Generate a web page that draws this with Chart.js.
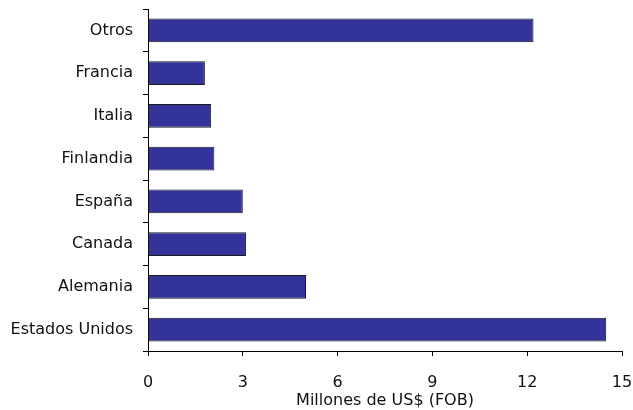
<!DOCTYPE html>
<html>
<head>
<meta charset="utf-8">
<script src="https://cdn.jsdelivr.net/npm/chart.js@4"></script>
<style>
  html, body { margin: 0; padding: 0; background: #fff; }
  #wrap { width: 633px; height: 410px; }
</style>
</head>
<body>
<div id="wrap"><canvas id="chart" width="633" height="410"></canvas></div>
<script>
const countries = ["Otros", "Francia", "Italia", "Finlandia", "España", "Canada", "Alemania", "Estados Unidos"];
const exports = [12.2, 1.8, 2.0, 2.1, 3.0, 3.1, 5.0, 14.5];
const xTicks = [0, 3, 6, 9, 12, 15];
const axisTitle = "Millones de US$ (FOB)";

const fontFamily = "'DejaVu Sans', sans-serif";

const chart = new Chart(document.getElementById("chart"), {
  type: "bar",
  data: {
    labels: countries,
    datasets: [{
      data: exports,
      backgroundColor: "#333399",
      borderColor: "#1a1a1a",
      borderWidth: 1,
      barPercentage: 0.56,
      categoryPercentage: 1,
    }],
  },
  options: {
    indexAxis: "y",
    responsive: false,
    animation: false,
    layout: { padding: { top: 9, right: 11, left: 0, bottom: 0 } },
    plugins: {
      legend: { display: false },
      tooltip: { enabled: false },
    },
    scales: {
      x: {
        min: 0,
        max: 15,
        afterBuildTicks: (scale) => {
          scale.ticks = xTicks.map((v) => ({ value: v }));
        },
        afterFit: (scale) => {
          scale.height = 59;
          scale.paddingLeft = 0;
          scale.paddingRight = 0;
        },
        grid: { drawOnChartArea: false, drawTicks: true, tickLength: 5, color: "#000" },
        border: { color: "#000", width: 1 },
        ticks: { color: "#111", padding: 17, font: { family: fontFamily, size: 16 } },
        title: {
          display: true,
          text: axisTitle,
          color: "#111",
          padding: { top: 0, bottom: 0 },
          font: { family: fontFamily, size: 16 },
        },
      },
      y: {
        afterFit: (scale) => {
          scale.width = 148;
          scale.paddingTop = 0;
          scale.paddingBottom = 0;
        },
        grid: { drawOnChartArea: false, drawTicks: true, tickLength: 5, color: "#000", offset: true },
        border: { color: "#000", width: 1 },
        ticks: { color: "#111", padding: 10, font: { family: fontFamily, size: 16 } },
      },
    },
  },
});
</script>
</body>
</html>
